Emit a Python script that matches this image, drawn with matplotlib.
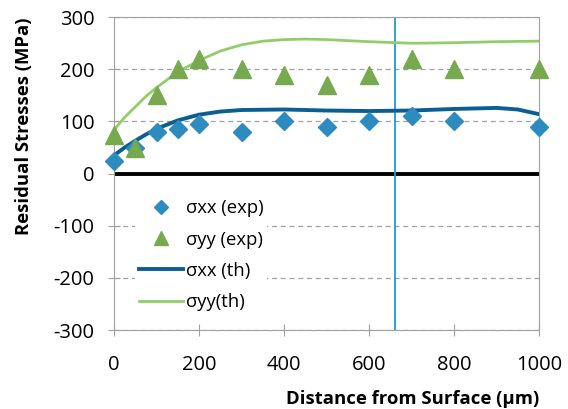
import matplotlib.pyplot as plt

plt.rcParams['font.family'] = ['Open Sans', 'DejaVu Sans']
plt.rcParams['axes.unicode_minus'] = False

# experimental points
x_exp = [0, 50, 100, 150, 200, 300, 400, 500, 600, 700, 800, 1000]
sxx_exp = [25, 50, 80, 85, 95, 80, 100, 90, 100, 110, 100, 90]
syy_exp = [75, 50, 150, 200, 220, 200, 190, 170, 190, 220, 200, 200]

# theoretical curves
x_sxx_th = [0, 25, 50, 75, 100, 150, 200, 250, 300, 400, 500, 600, 700, 800, 900, 950, 1000]
sxx_th = [35, 50, 63, 75, 86, 102, 113, 119, 122, 123, 121, 120, 121, 124, 126, 123, 114]
x_syy_th = [0, 25, 50, 75, 100, 150, 200, 250, 300, 350, 400, 450, 500, 600, 700, 800, 900, 1000]
syy_th = [84, 108, 128, 148, 165, 195, 217, 235, 247, 254, 257, 258, 257, 253, 250, 251, 253, 254]

x_marker_line = 660

fig = plt.figure(figsize=(5.68, 4.09), dpi=100)
ax = fig.add_axes([0.2007, 0.193, 0.7483, 0.765])

ax.axhline(0, color='black', lw=2.8, zorder=2)
ax.axvline(x_marker_line, color='#1e9bd7', lw=1.3, zorder=2)

ax.plot(x_exp, sxx_exp, 'D', color='#2e8bc0', ms=9, ls='none', label='σxx (exp)', zorder=4, clip_on=False)
ax.plot(x_exp, syy_exp, '^', color='#77a94f', ms=13, ls='none', label='σyy (exp)', zorder=4, clip_on=False)
ax.plot(x_sxx_th, sxx_th, color='#0b5e93', lw=2.8, label='σxx (th)', zorder=3)
ax.plot(x_syy_th, syy_th, color='#92cd6c', lw=2.0, label='σyy(th)', zorder=3)

ax.set_xlim(0, 1000)
ax.set_ylim(-300, 300)
ax.set_xticks(range(0, 1001, 200))
ax.set_yticks(range(-300, 301, 100))
ax.yaxis.grid(True, ls=(0, (4, 3)), color='#a0a0a0', lw=0.9)
ax.set_axisbelow(True)
for s in ax.spines.values():
    s.set_color('#a0a0a0')
ax.tick_params(direction='inout', length=8, color='#a0a0a0', labelsize=14.5)
ax.tick_params(axis='y', pad=10)
ax.tick_params(axis='x', pad=14)

ax.set_xlabel('Distance from Surface (µm)', fontsize=13.3, fontweight='bold', labelpad=10.5, loc='right')
ax.set_ylabel('Residual Stresses (MPa)', fontsize=13.3, fontweight='bold')
ax.yaxis.set_label_coords(-0.19, 0.65)

leg = ax.legend(loc='upper left', bbox_to_anchor=(0.05, 0.43), borderaxespad=0,
                fontsize=13.3, frameon=True, fancybox=False, handlelength=2.4,
                handletextpad=0.15, labelspacing=0.72, borderpad=0.2, markerscale=0.75)
leg.get_frame().set_facecolor('white')
leg.get_frame().set_edgecolor('none')
leg.get_frame().set_alpha(1)

fig.savefig('out.png', dpi=100)
